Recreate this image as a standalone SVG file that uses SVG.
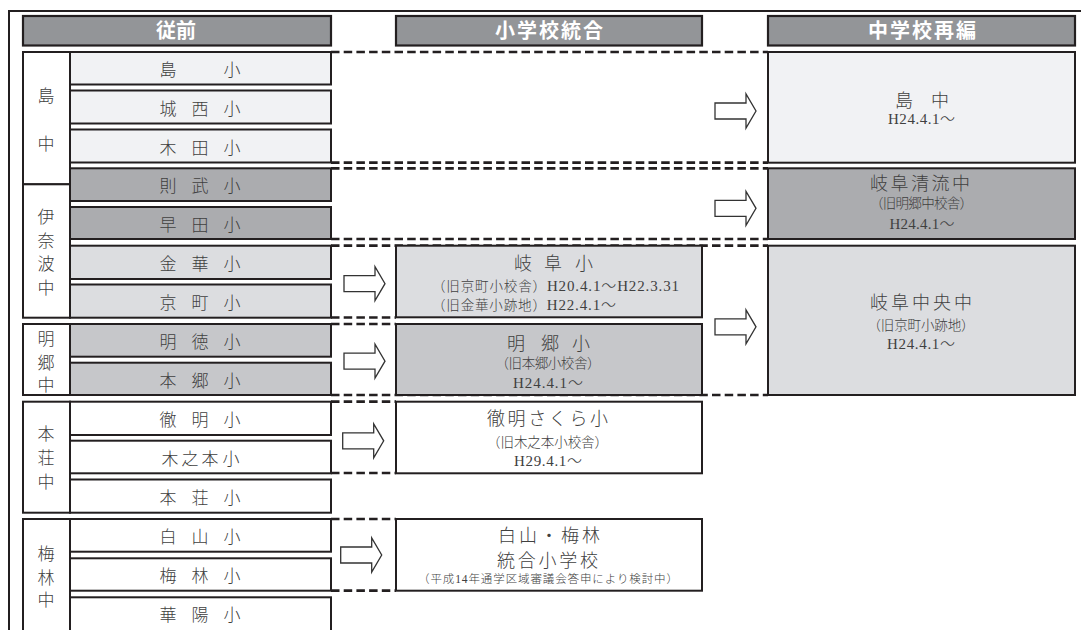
<svg xmlns="http://www.w3.org/2000/svg" xmlns:xlink="http://www.w3.org/1999/xlink" width="1081" height="630" viewBox="0 0 1081 630">
<style>
.box{stroke:#231f20;stroke-width:2}
.hdr{fill:#939598;stroke:#231f20;stroke-width:2.2}
.ht{font-family:"Noto Sans CJK JP",sans-serif;font-weight:bold;font-size:20px;fill:#fff;text-anchor:middle}
.t{font-family:"Liberation Serif","Noto Sans CJK JP",serif;fill:#404040;font-weight:300}
.e{font-size:17px}
.ti{font-size:18px}
.s{font-size:13.5px}
.d{font-size:15px}
.m{text-anchor:middle}
.dash{stroke:#231f20;stroke-width:2.7;stroke-dasharray:8.5 4.2;fill:none}
.arr{fill:#fff;stroke:#333;stroke-width:1.3}
.c0{fill:#f1f2f4}.c1{fill:#abacaf}.c2{fill:#dcdde0}.c3{fill:#c6c7ca}.c4{fill:#fff}
</style>
<defs>
<path id="arrow" class="arr" d="M0,-8 H31 V-17 L41,0 L31,17 V8 H0 Z"/>
</defs>
<rect x="0" y="0" width="1081" height="630" fill="#fff"/>
<path d="M9,632 V11 H1082" fill="none" stroke="#231f20" stroke-width="2"/>

<g id="connectors">
<line class="dash" x1="331" y1="52" x2="768" y2="52"/>
<line class="dash" x1="331" y1="162.7" x2="768" y2="162.7"/>
<line class="dash" x1="331" y1="168.3" x2="768" y2="168.3"/>
<line class="dash" x1="331" y1="239" x2="768" y2="239"/>
<line class="dash" x1="331" y1="245.7" x2="768" y2="245.7"/>
<line class="dash" x1="331" y1="317.5" x2="396" y2="317.5"/>
<line class="dash" x1="331" y1="324" x2="396" y2="324"/>
<line class="dash" x1="331" y1="395" x2="768" y2="395"/>
<line class="dash" x1="331" y1="401.7" x2="396" y2="401.7"/>
<line class="dash" x1="331" y1="473" x2="396" y2="473"/>
<line class="dash" x1="331" y1="519" x2="396" y2="519"/>
<line class="dash" x1="331" y1="590.7" x2="396" y2="590.7"/>
<use href="#arrow" x="715" y="111"/>
<use href="#arrow" x="715" y="208.3"/>
<use href="#arrow" x="715" y="326.8"/>
<use href="#arrow" x="344" y="283.7"/>
<use href="#arrow" x="344" y="361.2"/>
<use href="#arrow" x="342.7" y="440.8"/>
<use href="#arrow" x="340.7" y="555"/>
</g>

<g id="header-jusen"><rect class="hdr" x="23" y="16" width="308" height="29.5"/><text class="ht" x="176" y="38">従前</text></g>
<g id="header-shogakko"><rect class="hdr" x="396" y="16" width="306" height="29.5"/><text class="ht" x="549" y="38" textLength="108" lengthAdjust="spacing">小学校統合</text></g>
<g id="header-chugakko"><rect class="hdr" x="768" y="16" width="307" height="29.5"/><text class="ht" x="922" y="38" textLength="108" lengthAdjust="spacing">中学校再編</text></g>

<g id="ms-shima"><rect class="box c4" x="23" y="52" width="47" height="132.3"/><text class="t e" x="46 46" y="101.5 149.5" text-anchor="middle">島中</text></g>
<g id="ms-inaba"><rect class="box c4" x="23" y="184.3" width="47" height="133.4"/><text class="t e" x="46 46 46 46" y="222.5 246.5 270 294" text-anchor="middle">伊奈波中</text></g>
<g id="ms-meigo"><rect class="box c4" x="23" y="324" width="47" height="71"/><text class="t e" x="46 46 46" y="345 368.5 390.5" text-anchor="middle">明郷中</text></g>
<g id="ms-honjo"><rect class="box c4" x="23" y="401.7" width="47" height="111"/><text class="t e" x="46 46 46" y="440 464 488" text-anchor="middle">本荘中</text></g>
<g id="ms-umebayashi"><rect class="box c4" x="23" y="519" width="47" height="125"/><text class="t e" x="46 46 46" y="560 584 606" text-anchor="middle">梅林中</text></g>

<g id="es-shima"><rect class="box c0" x="70" y="52" width="261" height="32.5"/><text class="t e" x="168 232" y="76" text-anchor="middle">島小</text></g>
<g id="es-josai"><rect class="box c0" x="70" y="90.5" width="261" height="33"/><text class="t e" x="168 200 232" y="114.5" text-anchor="middle">城西小</text></g>
<g id="es-kida"><rect class="box c0" x="70" y="129.5" width="261" height="33"/><text class="t e" x="168 200 232" y="153.5" text-anchor="middle">木田小</text></g>
<g id="es-noritake"><rect class="box c1" x="70" y="168.3" width="261" height="32.7"/><text class="t e" x="168 200 232" y="192.3" text-anchor="middle">則武小</text></g>
<g id="es-soden"><rect class="box c1" x="70" y="207" width="261" height="32"/><text class="t e" x="168 200 232" y="231" text-anchor="middle">早田小</text></g>
<g id="es-kinka"><rect class="box c2" x="70" y="245.7" width="261" height="33.3"/><text class="t e" x="168 200 232" y="269.7" text-anchor="middle">金華小</text></g>
<g id="es-kyomachi"><rect class="box c2" x="70" y="284.5" width="261" height="33.2"/><text class="t e" x="168 200 232" y="308.5" text-anchor="middle">京町小</text></g>
<g id="es-meitoku"><rect class="box c3" x="70" y="324" width="261" height="32.7"/><text class="t e" x="168 200 232" y="348" text-anchor="middle">明徳小</text></g>
<g id="es-hongo"><rect class="box c3" x="70" y="362.7" width="261" height="32.3"/><text class="t e" x="168 200 232" y="386.7" text-anchor="middle">本郷小</text></g>
<g id="es-tetsumei"><rect class="box c4" x="70" y="401.7" width="261" height="33.3"/><text class="t e" x="168 200 232" y="425.7" text-anchor="middle">徹明小</text></g>
<g id="es-kinomoto"><rect class="box c4" x="70" y="440.7" width="261" height="32.6"/><text class="t e" x="170 190 210 231" y="464.7" text-anchor="middle">木之本小</text></g>
<g id="es-honjo"><rect class="box c4" x="70" y="479.5" width="261" height="33.2"/><text class="t e" x="168 200 232" y="503.5" text-anchor="middle">本荘小</text></g>
<g id="es-hakusan"><rect class="box c4" x="70" y="519" width="261" height="32.7"/><text class="t e" x="168 200 232" y="543" text-anchor="middle">白山小</text></g>
<g id="es-umebayashi"><rect class="box c4" x="70" y="558.3" width="261" height="32.4"/><text class="t e" x="168 200 232" y="582.3" text-anchor="middle">梅林小</text></g>
<g id="es-kayo"><rect class="box c4" x="70" y="597.3" width="261" height="40"/><text class="t e" x="168 200 232" y="621.3" text-anchor="middle">華陽小</text></g>

<g id="new-gifu-sho"><rect class="box c2" x="396" y="245.7" width="306" height="71.6"/>
<text class="t ti" x="523 553 584" y="270" text-anchor="middle">岐阜小</text>
<text class="t s" x="432" y="290.5" textLength="247" lengthAdjust="spacing">（旧京町小校舎）<tspan class="d">H20.4.1～H22.3.31</tspan></text>
<text class="t s" x="432" y="309.5" textLength="184" lengthAdjust="spacing">（旧金華小跡地）<tspan class="d">H22.4.1～</tspan></text></g>
<g id="new-meigo-sho"><rect class="box c3" x="396" y="324" width="306" height="71"/>
<text class="t ti" x="516 550 581" y="350" text-anchor="middle">明郷小</text>
<text class="t s m" x="548" y="368" textLength="105" lengthAdjust="spacing">（旧本郷小校舎）</text>
<text class="t d m" x="548" y="387.5" textLength="70" lengthAdjust="spacing">H24.4.1～</text></g>
<g id="new-tetsumei-sakura"><rect class="box c4" x="396" y="401.7" width="306" height="71.6"/>
<text class="t ti m" x="547.5" y="425" textLength="121" lengthAdjust="spacing">徹明さくら小</text>
<text class="t s m" x="547.5" y="446.5" textLength="121" lengthAdjust="spacing">（旧木之本小校舎）</text>
<text class="t d m" x="548" y="465.5" textLength="68" lengthAdjust="spacing">H29.4.1～</text></g>
<g id="new-hakusan-umebayashi"><rect class="box c4" x="396" y="519" width="306" height="71.7"/>
<text class="t ti m" x="549" y="542" textLength="102" lengthAdjust="spacing">白山・梅林</text>
<text class="t ti m" x="547.5" y="567" textLength="101" lengthAdjust="spacing">統合小学校</text>
<text class="t m" style="font-size:11.5px" x="548" y="582.5" textLength="260" lengthAdjust="spacing">（平成14年通学区域審議会答申により検討中）</text></g>

<g id="new-shima-chu"><rect class="box c0" x="768" y="52" width="307" height="110.7"/>
<text class="t ti" x="904 940" y="107" text-anchor="middle">島中</text>
<text class="t d m" x="921.5" y="123.5" textLength="67" lengthAdjust="spacing">H24.4.1～</text></g>
<g id="new-gifu-seiryu-chu"><rect class="box c1" x="768" y="168.3" width="307" height="70.7"/>
<text class="t ti m" x="920" y="190" textLength="100" lengthAdjust="spacing">岐阜清流中</text>
<text class="t s m" x="921.5" y="208" textLength="103" lengthAdjust="spacing">（旧明郷中校舎）</text>
<text class="t d m" x="922" y="228.5" textLength="65" lengthAdjust="spacing">H24.4.1～</text></g>
<g id="new-gifu-chuo-chu"><rect class="box c2" x="768" y="245.7" width="307" height="149.3"/>
<text class="t ti m" x="921" y="309" textLength="102" lengthAdjust="spacing">岐阜中央中</text>
<text class="t s m" x="921" y="330" textLength="107" lengthAdjust="spacing">（旧京町小跡地）</text>
<text class="t d m" x="921" y="348.5" textLength="68" lengthAdjust="spacing">H24.4.1～</text></g>
</svg>
